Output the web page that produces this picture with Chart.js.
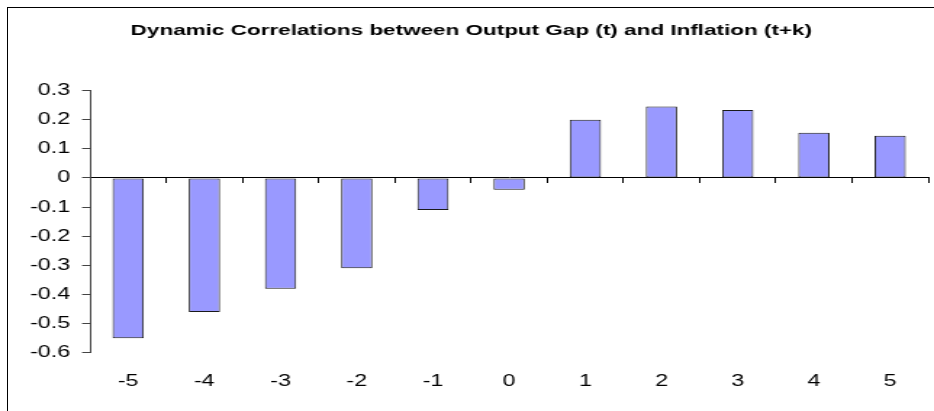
<!DOCTYPE html>
<html>
<head>
<meta charset="utf-8">
<script src="https://cdn.jsdelivr.net/npm/chart.js@4"></script>
<style>
  html, body { margin: 0; padding: 0; background: #fff; overflow: hidden; }
  #wrap { position: relative; width: 934px; height: 411px; overflow: hidden; }
  /* the reference chart is stretched sideways, so the canvas is drawn narrow and scaled up */
  #stretch { position: absolute; left: 0; top: 0; width: 644px; height: 411px; transform: scaleX(1.4503); transform-origin: 0 0; }
  #frame { position: absolute; left: 7px; top: 7px; right: -20px; bottom: -20px; border: 1px solid #000; pointer-events: none; }
</style>
</head>
<body>
<div id="wrap">
  <div id="stretch"><canvas id="corr" width="644" height="411"></canvas></div>
  <div id="frame"></div>
</div>
<script>
// k (lead of inflation), and correlation of output gap (t) with inflation (t+k)
const lags = ["-5", "-4", "-3", "-2", "-1", "0", "1", "2", "3", "4", "5"];
const correlations = [-0.55, -0.46, -0.38, -0.31, -0.11, -0.04, 0.2, 0.245, 0.233, 0.155, 0.145];
const yTicks = [0.3, 0.2, 0.1, 0, -0.1, -0.2, -0.3, -0.4, -0.5, -0.6];

Chart.defaults.font.family = '"Liberation Sans", Arial, sans-serif';
Chart.defaults.color = "#000";

new Chart(document.getElementById("corr"), {
  type: "bar",
  data: {
    labels: lags,
    datasets: [
      {
        label: "Correlation",
        data: correlations,
        backgroundColor: "#9999ff",
        borderColor: "#1a1a1a",
        borderWidth: 1,
        borderSkipped: false,
        categoryPercentage: 1,
        barPercentage: 0.41,
      },
    ],
  },
  options: {
    responsive: false,
    animation: false,
    layout: {
      padding: { left: 10, right: 4, top: 0, bottom: 0 },
    },
    plugins: {
      legend: { display: false },
      tooltip: { enabled: false },
      title: {
        display: true,
        text: "Dynamic Correlations between Output Gap (t) and Inflation (t+k)",
        font: { size: 15.5, weight: "bold" },
        color: "#000",
        padding: { top: 21, bottom: 51 },
      },
    },
    scales: {
      x: {
        grid: { display: false, drawTicks: false },
        border: { display: false },
        ticks: { font: { size: 16 }, padding: 19.5, color: "#000" },
      },
      // zero line with the small tick marks between categories
      x2: {
        type: "category",
        labels: lags,
        position: { y: 0 },
        offset: true,
        afterFit: (axis) => {
          axis.height = 0;
        },
        grid: {
          offset: true,
          drawOnChartArea: false,
          drawTicks: true,
          tickLength: 5,
          color: "#000",
        },
        border: { display: true, color: "#000", width: 1 },
        ticks: { display: false },
      },
      y: {
        min: -0.6,
        max: 0.3,
        afterBuildTicks: (axis) => {
          axis.ticks = yTicks.map((v) => ({ value: v }));
        },
        afterFit: (axis) => {
          axis.width = 52.1;
        },
        grid: {
          drawOnChartArea: false,
          drawTicks: true,
          tickLength: 5.5,
          color: "#444",
        },
        border: { display: true, color: "#444", width: 1 },
        ticks: {
          font: { size: 16 },
          padding: 8.3,
          color: "#000",
          callback: (v) => (Math.abs(v) < 1e-9 ? "0" : String(Math.round(v * 10) / 10)),
        },
      },
    },
  },
});
</script>
</body>
</html>
